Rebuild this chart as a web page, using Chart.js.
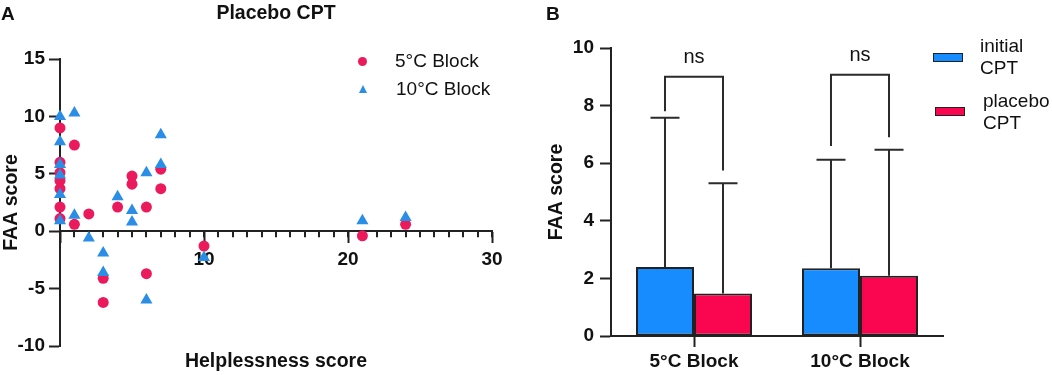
<!DOCTYPE html>
<html>
<head>
<meta charset="utf-8">
<script src="https://cdn.jsdelivr.net/npm/chart.js@4.4.1/dist/chart.umd.min.js"></script>
<style>
	body { margin: 0; background: #fff; font-family: "Liberation Sans", Arial, sans-serif; color: #111; }
	#wrap { position: relative; width: 1052px; height: 375px; overflow: hidden; background: #fff; }
	canvas { position: absolute; top: 0; }
	.lbl { position: absolute; white-space: nowrap; }
	.panel { font-weight: bold; font-size: 19px; line-height: 19px; }
	.leg { font-size: 19px; line-height: 20px; }
	.leg2 { font-size: 19px; line-height: 22px; }
</style>
</head>
<body>
<div id="wrap">
	<canvas id="canvasScatter" width="540" height="375" style="left:0"></canvas>
	<canvas id="canvasBars" width="512" height="375" style="left:540px"></canvas>

	<div class="lbl panel" style="left:1px;top:4px">A</div>
	<div class="lbl panel" style="left:546px;top:4px">B</div>

	<!-- legend panel A -->
	<div class="lbl" style="left:358px;top:57px;width:9px;height:9px;border-radius:50%;background:#EA1A5C"></div>
	<div class="lbl leg" style="left:395px;top:51px">5°C Block</div>
	<div class="lbl" style="left:359px;top:85px;width:0;height:0;border-left:4.5px solid transparent;border-right:4.5px solid transparent;border-bottom:8px solid #2A8DE6"></div>
	<div class="lbl leg" style="left:396px;top:79px">10°C Block</div>

	<!-- legend panel B -->
	<div class="lbl" style="left:933px;top:53px;width:30px;height:9px;box-sizing:border-box;border:1.5px solid #222;background:#168CFF"></div>
	<div class="lbl leg2" style="left:980px;top:35px">initial<br>CPT</div>
	<div class="lbl" style="left:935px;top:107px;width:30px;height:9px;box-sizing:border-box;border:1.5px solid #222;background:#FA0550"></div>
	<div class="lbl leg2" style="left:983px;top:90px">placebo<br>CPT</div>
</div>

<script>
// panel A: placebo CPT, helplessness vs FAA
var cold5X  = [0, 0, 0, 0, 0, 0, 0, 1, 1, 2, 3, 3, 4, 5, 5, 6, 6, 7, 7, 10, 21, 24];
var cold5Y  = [9.0, 6.0, 5.1, 4.4, 3.7, 2.1, 1.1, 7.5, 0.6, 1.5, -4.1, -6.2, 2.1, 4.8, 4.1, 2.1, -3.7, 5.4, 3.7, -1.3, -0.4, 0.6];
var cold10X = [0, 0, 0, 0, 0, 0, 1, 1, 2, 3, 3, 4, 5, 5, 6, 6, 7, 7, 10, 21, 24];
var cold10Y = [10.0, 7.8, 5.8, 4.9, 3.2, 0.9, 10.3, 1.4, -0.6, -1.9, -3.6, 3.0, 1.8, 0.8, 5.1, -6.0, 8.4, 5.8, -2.3, 0.9, 1.2];

// panel B: mean + SD per block
var blockLabels = ['5°C Block', '10°C Block'];
var initialMean = [2.40, 2.35];
var initialSD   = [5.18, 3.77];
var placeboMean = [1.48, 2.09];
var placeboSD   = [3.82, 4.38];
var bracketTop      = [9.0, 9.07];
var bracketLeftEnd  = [7.8, 6.6];
var bracketRightEnd = [5.75, 6.9];
var bracketText     = ['ns', 'ns'];

var axisColor = '#222';
var tickFont = {size: 19, weight: 'bold'};
var titleFont = {size: 19.5, weight: 'bold'};

function toPoints(xs, ys){
	return xs.map(function(x, i){ return {x: x, y: ys[i]}; });
}

// small unlabelled ticks every unit along the x axis (sits at y = 0)
var minorTickPlugin = {
	id: 'minorTicks',
	beforeDatasetsDraw: function(chart){
		var xs = chart.scales.x, ys = chart.scales.y;
		var y0 = ys.getPixelForValue(0);
		var ctx = chart.ctx;
		ctx.save();
		ctx.strokeStyle = axisColor;
		ctx.lineWidth = 2;
		ctx.beginPath();
		for (var v = xs.min; v <= xs.max; v += 1){
			var px = Math.round(xs.getPixelForValue(v));
			ctx.moveTo(px, y0);
			ctx.lineTo(px, y0 + 6);
		}
		ctx.stroke();
		ctx.restore();
	}
};

function init_chart_scatter(){

	if( typeof (Chart) === 'undefined'){ return; }

	new Chart(document.getElementById('canvasScatter'), {
		type: 'scatter',
		data: {
			datasets: [{
				label: '5°C Block',
				data: toPoints(cold5X, cold5Y),
				xAxisID: 'x', yAxisID: 'y',
				pointStyle: 'circle',
				pointRadius: 5.5,
				backgroundColor: '#EA1A5C',
				borderWidth: 0,
				order: 2,
				clip: false
			}, {
				label: '10°C Block',
				data: toPoints(cold10X, cold10Y),
				xAxisID: 'x', yAxisID: 'y',
				pointStyle: 'triangle',
				pointRadius: 7,
				backgroundColor: '#2A8DE6',
				borderWidth: 0,
				order: 1,
				clip: false
			}]
		},
		options: {
			responsive: false,
			animation: false,
			layout: { padding: {left: 0, right: 48, top: 0, bottom: 0} },
			plugins: {
				legend: { display: false },
				tooltip: { enabled: false },
				title: {
					display: true,
					text: 'Placebo CPT',
					fullSize: false,
					color: '#111',
					font: titleFont,
					padding: {top: 2, bottom: 33.6}
				}
			},
			scales: {
				x: {
					axis: 'x',
					type: 'linear',
					position: {y: 0},
					min: 0, max: 30,
					ticks: {
						stepSize: 10, font: tickFont, color: '#111', padding: 6,
						callback: function(v){ return v === 0 ? '' : v; }
					},
					grid: { drawOnChartArea: false, tickLength: 11, tickWidth: 2, tickColor: axisColor },
					border: { width: 2, color: axisColor }
				},
				xTitle: {
					axis: 'x',
					type: 'linear',
					position: 'bottom',
					min: 0, max: 30,
					ticks: { display: false },
					grid: { display: false },
					border: { display: false },
					title: { display: true, text: 'Helplessness score', color: '#111', font: titleFont, padding: {top: 0, bottom: 2} },
					afterFit: function(scale){ scale.height = 29; }
				},
				y: {
					type: 'linear',
					position: 'left',
					min: -10, max: 15,
					ticks: { stepSize: 5, font: tickFont, color: '#111', padding: 4 },
					grid: { drawOnChartArea: false, tickLength: 11, tickWidth: 2, tickColor: axisColor },
					border: { width: 2, color: axisColor },
					title: { display: true, text: 'FAA score', color: '#111', font: titleFont, padding: {top: 0, bottom: 0} },
					afterFit: function(scale){ scale.width = 60; }
				}
			}
		},
		plugins: [minorTickPlugin]
	});
}

// error bars (upper SD) and "ns" brackets over each block
var errorBracketPlugin = {
	id: 'errorBracket',
	afterDatasetsDraw: function(chart){
		var ctx = chart.ctx;
		var yScale = chart.scales.y;
		var sds = [initialSD, placeboSD];
		ctx.save();
		ctx.strokeStyle = '#2b2b2b';
		ctx.lineWidth = 2;
		sds.forEach(function(sd, i){
			var ds = chart.data.datasets[i];
			chart.getDatasetMeta(i).data.forEach(function(bar, j){
				var top = yScale.getPixelForValue(ds.data[j] + sd[j]);
				ctx.beginPath();
				ctx.moveTo(bar.x, bar.y);
				ctx.lineTo(bar.x, top);
				ctx.moveTo(bar.x - 14.5, top);
				ctx.lineTo(bar.x + 14.5, top);
				ctx.stroke();
			});
		});
		var left = chart.getDatasetMeta(0).data;
		var right = chart.getDatasetMeta(1).data;
		ctx.fillStyle = '#111';
		ctx.font = '20px "Liberation Sans", Arial, sans-serif';
		ctx.textAlign = 'center';
		ctx.textBaseline = 'middle';
		blockLabels.forEach(function(lab, j){
			var x1 = left[j].x, x2 = right[j].x;
			var yt = yScale.getPixelForValue(bracketTop[j]);
			ctx.beginPath();
			ctx.moveTo(x1, yScale.getPixelForValue(bracketLeftEnd[j]));
			ctx.lineTo(x1, yt);
			ctx.lineTo(x2, yt);
			ctx.lineTo(x2, yScale.getPixelForValue(bracketRightEnd[j]));
			ctx.stroke();
			ctx.fillText(bracketText[j], (x1 + x2) / 2, yt - 19);
		});
		ctx.restore();
	}
};

function init_chart_bars(){

	if( typeof (Chart) === 'undefined'){ return; }

	new Chart(document.getElementById('canvasBars'), {
		type: 'bar',
		data: {
			labels: blockLabels,
			datasets: [{
				label: 'initial CPT',
				data: initialMean,
				backgroundColor: '#168CFF',
				borderColor: axisColor,
				borderWidth: 2,
				borderSkipped: false,
				categoryPercentage: 0.699,
				barPercentage: 1
			}, {
				label: 'placebo CPT',
				data: placeboMean,
				backgroundColor: '#FA0550',
				borderColor: axisColor,
				borderWidth: 2,
				borderSkipped: false,
				categoryPercentage: 0.699,
				barPercentage: 1
			}]
		},
		options: {
			responsive: false,
			animation: false,
			layout: { padding: {left: 5, right: 109, top: 48, bottom: 0} },
			plugins: {
				legend: { display: false },
				tooltip: { enabled: false }
			},
			scales: {
				x: {
					ticks: { font: tickFont, color: '#111', padding: 3 },
					grid: { offset: false, drawOnChartArea: false, tickLength: 11, tickWidth: 2, tickColor: axisColor },
					border: { width: 2, color: axisColor },
					afterFit: function(scale){ scale.height = 39; }
				},
				y: {
					min: 0, max: 10,
					ticks: { stepSize: 2, font: tickFont, color: '#111', padding: 6 },
					grid: { drawOnChartArea: false, tickLength: 11, tickWidth: 2, tickColor: axisColor },
					border: { width: 2, color: axisColor },
					title: { display: true, text: 'FAA score', color: '#111', font: titleFont, padding: {top: 0, bottom: 0} },
					afterFit: function(scale){ scale.width = 66; }
				}
			}
		},
		plugins: [errorBracketPlugin]
	});
}

Chart.defaults.font.family = '"Liberation Sans", Arial, sans-serif';
Chart.defaults.color = '#111';
init_chart_scatter();
init_chart_bars();
</script>
</body>
</html>
